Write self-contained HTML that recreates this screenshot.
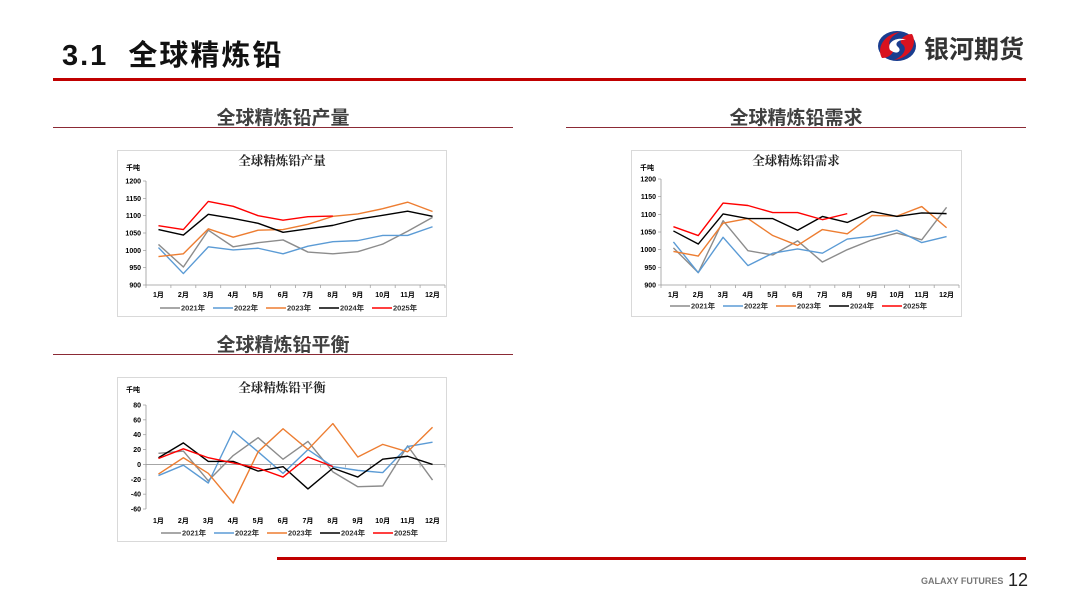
<!DOCTYPE html>
<html><head><meta charset="utf-8">
<style>
body{margin:0;background:#fff;}
#page{position:relative;width:1080px;height:608px;overflow:hidden;background:#fff;font-family:"Liberation Sans","Noto Sans CJK SC",sans-serif;}
.abs{position:absolute;}
.sec{position:absolute;font-size:19px;font-weight:bold;color:#404040;text-align:center;}
.uline{position:absolute;height:1px;background:#8b2a35;}
.box{position:absolute;border:1px solid #d9d9d9;background:#fff;}
</style></head><body>
<div id="page">
 <div class="abs" style="left:62px;top:32px;font-size:29px;font-weight:bold;color:#111;letter-spacing:2px;">3.1&nbsp; 全球精炼铅</div>
 <svg class="abs" style="left:876px;top:28px" width="42" height="36" viewBox="0 0 42 36">
  <ellipse cx="21" cy="18" rx="19" ry="15" fill="#1a3d8f"/>
  <path d="M6 30 C0 20 8 6 24 4 C14 8 10 16 16 20 C20 23 14 30 6 30Z" fill="#d9121f"/>
  <path d="M36 6 C42 16 34 30 18 32 C28 28 32 20 26 16 C22 13 28 6 36 6Z" fill="#d9121f"/>
  <path d="M14 22 C10 14 22 8 30 12 C22 11 18 16 22 19 C26 22 22 28 14 22Z" fill="#fff"/>
 </svg>
 <div class="abs" style="left:924px;top:30px;font-size:25px;font-weight:bold;color:#333;">银河期货</div>
 <div class="abs" style="left:53px;top:78px;width:973px;height:3px;background:#c00000;"></div>

 <div class="sec" style="left:53px;top:103px;width:460px;">全球精炼铅产量</div>
 <div class="uline" style="left:53px;top:127px;width:460px;"></div>
 <div class="sec" style="left:566px;top:103px;width:460px;">全球精炼铅需求</div>
 <div class="uline" style="left:566px;top:127px;width:460px;"></div>
 <div class="sec" style="left:53px;top:330px;width:460px;">全球精炼铅平衡</div>
 <div class="uline" style="left:53px;top:354px;width:460px;"></div>

 <svg class="box" id="c1" style="left:117px;top:150px" width="328" height="165"></svg>
 <svg class="box" id="c2" style="left:631px;top:150px" width="329" height="165"></svg>
 <svg class="box" id="c3" style="left:117px;top:377px" width="328" height="163"></svg>

 <div class="abs" style="left:277px;top:557px;width:749px;height:3px;background:#c00000;"></div>
 <div class="abs" style="left:921px;top:576px;font-size:9px;font-weight:bold;color:#777;">GALAXY FUTURES</div>
 <div class="abs" style="left:1008px;top:570px;font-size:18px;color:#222;">12</div>
</div>
<script>
const months=["1月","2月","3月","4月","5月","6月","7月","8月","9月","10月","11月","12月"];
const years=["2021年","2022年","2023年","2024年","2025年"];
const colors=["#8c8c8c","#5b9bd5","#ed7d31","#000000","#ff0000"];
const prodTicks=[900,950,1000,1050,1100,1150,1200];
const prod2021=[1017,952,1058,1010,1022,1030,995,990,996,1018,1055,1095];
const prod2022=[1008,933,1010,1001,1006,990,1012,1025,1028,1043,1043,1068];
const prod2023=[982,990,1062,1038,1058,1060,1075,1098,1105,1120,1139,1112];
const prod2024=[1060,1044,1104,1092,1078,1052,1062,1072,1090,1101,1113,1098];
const prod2025=[1071,1060,1141,1127,1100,1087,1097,1099];
const demTicks=[900,950,1000,1050,1100,1150,1200];
const dem2021=[1005,935,1082,997,985,1025,965,1000,1028,1047,1028,1120];
const dem2022=[1022,935,1035,955,990,1002,990,1030,1038,1055,1020,1037];
const dem2023=[995,982,1075,1088,1040,1012,1057,1045,1097,1095,1122,1062];
const dem2024=[1053,1016,1101,1088,1088,1055,1094,1077,1108,1094,1104,1102];
const dem2025=[1065,1040,1132,1125,1105,1105,1085,1102];
const balTicks=[-60,-40,-20,0,20,40,60,80];
const bal2021=[15,18,-22,12,36,7,31,-10,-30,-29,25,-21];
const bal2022=[-15,-1,-25,45,17,-12,20,-3,-8,-11,24,30];
const bal2023=[-13,9,-12,-52,17,48,20,55,10,27,17,50];
const bal2024=[9,29,4,4,-9,-3,-33,-5,-17,7,11,0];
const bal2025=[8,21,9,2,-5,-17,10,-3];

const NS="http://www.w3.org/2000/svg";
function mk(svg,tag,attrs,text){const e=document.createElementNS(NS,tag);for(const k in attrs)e.setAttribute(k,attrs[k]);if(text!==undefined)e.textContent=text;svg.appendChild(e);return e;}
function draw(id,title,ticks,series,g){
 const svg=document.getElementById(id);
 const xl=g.x0,xr=g.x1,yt=g.yt,yb=g.yb,mn=ticks[0],mx=ticks[ticks.length-1];
 const ys=v=>yb-(v-mn)/(mx-mn)*(yb-yt);
 const step=(xr-xl)/12;
 const xs=i=>xl+step*(i+0.5);
 let t=mk(svg,'text',{x:164,y:14,'font-size':'12.5','font-weight':'bold','text-anchor':'middle','font-family':'"Liberation Serif","Noto Serif CJK SC",serif',fill:'#222'},title);
 
 t=mk(svg,'text',{x:8,y:g.unitY,'font-size':'7','font-weight':'bold',fill:'#000'},'千吨');
 
 ticks.forEach(v=>{const e=mk(svg,'text',{x:xl-5,y:ys(v)+2.5,'font-size':'7','font-weight':'bold','text-anchor':'end',fill:'#000'},v);
  
  mk(svg,'line',{x1:xl-3,x2:xl,y1:ys(v),y2:ys(v),stroke:'#999','stroke-width':0.7});});
 const ax=mk(svg,'line',{x1:xl,x2:xl,y1:yt,y2:yb,stroke:'#999','stroke-width':0.8});
 
 const xa=g.zero?ys(0):yb;
 const xx=mk(svg,'line',{x1:xl,x2:xr,y1:xa,y2:xa,stroke:'#999','stroke-width':0.8});
 
 for(let i=0;i<=12;i++)mk(svg,'line',{x1:xl+step*i,x2:xl+step*i,y1:xa,y2:xa+3,stroke:'#999','stroke-width':0.7});
 months.forEach((m,i)=>{const e=mk(svg,'text',{x:xs(i),y:g.monY,'font-size':'7','font-weight':'bold','text-anchor':'middle',fill:'#000'},m);
  });
 series.forEach((s,k)=>{const p=mk(svg,'polyline',{points:s.map((v,i)=>xs(i)+','+ys(v)).join(' '),fill:'none',stroke:colors[k],'stroke-width':1.4,'stroke-linejoin':'round'});
  
  const lx=g.legX+k*53;
  const l=mk(svg,'line',{x1:lx,x2:lx+20,y1:g.legY,y2:g.legY,stroke:colors[k],'stroke-width':1.4});
  
  const lt=mk(svg,'text',{x:lx+21,y:g.legY+2.5,'font-size':'7.5','font-weight':'bold',fill:'#333'},years[k]);
  });
}
draw('c1','全球精炼铅产量',prodTicks,[prod2021,prod2022,prod2023,prod2024,prod2025],{x0:28,x1:327,yt:30,yb:134,unitY:19,monY:146,legX:42,legY:157});
draw('c2','全球精炼铅需求',demTicks,[dem2021,dem2022,dem2023,dem2024,dem2025],{x0:29,x1:327,yt:28,yb:134,unitY:19,monY:146,legX:38,legY:155});
draw('c3','全球精炼铅平衡',balTicks,[bal2021,bal2022,bal2023,bal2024,bal2025],{x0:28,x1:327,yt:27,yb:131,unitY:14,zero:true,monY:145,legX:43,legY:155});
</script>
</body></html>
